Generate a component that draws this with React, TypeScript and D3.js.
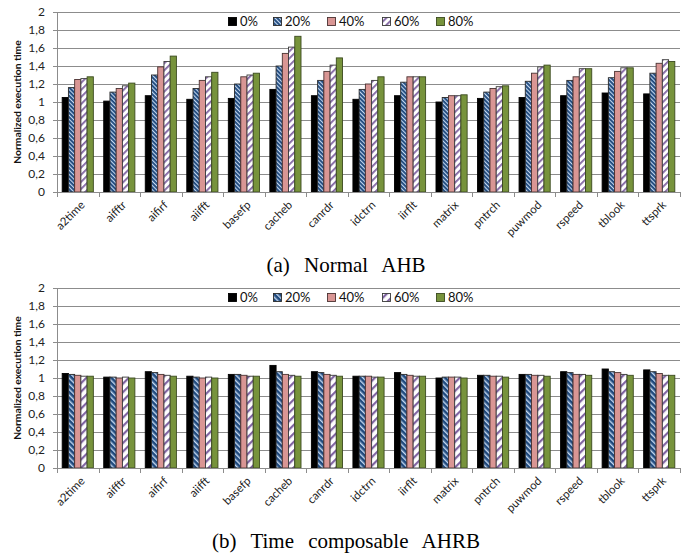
import React from 'react';
import * as d3 from 'd3';

// benchmarks on the x axis
const categories = [
  'a2time', 'aifftr', 'aifirf', 'aiifft', 'basefp', 'cacheb', 'canrdr', 'idctrn',
  'iirflt', 'matrix', 'pntrch', 'puwmod', 'rspeed', 'tblook', 'ttsprk',
];
const seriesNames = ['0%', '20%', '40%', '60%', '80%'];
const yTicks = [0, 0.2, 0.4, 0.6, 0.8, 1, 1.2, 1.4, 1.6, 1.8, 2];

// (a) Normal AHB
const normal0 = [1.05, 1.01, 1.07, 1.03, 1.04, 1.14, 1.07, 1.03, 1.07, 1.0, 1.04, 1.05, 1.07, 1.1, 1.09];
const normal20 = [1.16, 1.11, 1.3, 1.15, 1.2, 1.4, 1.24, 1.14, 1.22, 1.05, 1.11, 1.23, 1.24, 1.27, 1.32];
const normal40 = [1.25, 1.15, 1.39, 1.24, 1.28, 1.54, 1.34, 1.2, 1.28, 1.07, 1.15, 1.32, 1.28, 1.34, 1.43];
const normal60 = [1.26, 1.18, 1.45, 1.28, 1.3, 1.61, 1.41, 1.24, 1.28, 1.07, 1.17, 1.39, 1.37, 1.38, 1.47];
const normal80 = [1.28, 1.21, 1.51, 1.33, 1.32, 1.73, 1.49, 1.28, 1.28, 1.08, 1.18, 1.41, 1.37, 1.38, 1.45];

// (b) Time composable AHRB
const compos0 = [1.05, 1.01, 1.07, 1.02, 1.04, 1.14, 1.07, 1.02, 1.06, 1.0, 1.03, 1.04, 1.07, 1.1, 1.09];
const compos20 = [1.04, 1.01, 1.06, 1.01, 1.04, 1.07, 1.06, 1.02, 1.04, 1.01, 1.03, 1.04, 1.06, 1.07, 1.07];
const compos40 = [1.03, 1.0, 1.04, 1.0, 1.03, 1.04, 1.04, 1.02, 1.03, 1.01, 1.02, 1.03, 1.04, 1.06, 1.05];
const compos60 = [1.02, 1.01, 1.03, 1.01, 1.02, 1.03, 1.03, 1.01, 1.02, 1.01, 1.02, 1.03, 1.04, 1.04, 1.03];
const compos80 = [1.02, 1.0, 1.02, 1.0, 1.02, 1.02, 1.02, 1.01, 1.02, 1.0, 1.01, 1.02, 1.03, 1.03, 1.03];

const FONT = 'Lato, "Open Sans", sans-serif';
const GRID = '#8c8c8c';
const W = 695;
const H = 554;

type ChartProps = {
  id: string;
  top: number;
  series: number[][];
  caption: string;
  fine: boolean; // top chart uses the denser hatching
};

const BarChart = ({ id, top, series, caption, fine }: ChartProps) => {
  const margin = { left: 57, right: 15, top: 12 };
  const plotH = 180;

  const x = d3.scaleBand<string>()
    .domain(categories)
    .range([margin.left, W - margin.right])
    .paddingInner(0.25)
    .paddingOuter(0.125);
  const step = x.step();
  const xs = d3.scaleBand<string>()
    .domain(seriesNames)
    .range([0, x.bandwidth()]);
  const y = d3.scaleLinear().domain([0, 2]).range([margin.top + plotH, margin.top]);

  const fills = ['#000', `url(#${id}-p20)`, '#d99694', `url(#${id}-p60)`, '#77933c'];
  const strokes = ['#000', '#2a2a2a', '#4a3232', '#3a3a3a', '#3b4a1f'];
  const legendX = [228, 273, 327, 382, 436];

  // category separators on the x axis
  const boundaries = d3.range(categories.length + 1).map(i => margin.left + i * step);

  return (
    <g transform={`translate(0,${top})`}>
      <defs>
        <pattern id={`${id}-p20`} patternUnits="userSpaceOnUse" width={fine ? 3 : 4} height={fine ? 3 : 4}
          patternTransform="rotate(-45)">
          <rect width={fine ? 3 : 4} height={fine ? 3 : 4} fill="#1f497d" />
          <rect width={fine ? 1.1 : 1.4} height={fine ? 3 : 4} fill="#c6d9f1" />
        </pattern>
        <pattern id={`${id}-p60`} patternUnits="userSpaceOnUse" width={fine ? 5 : 6} height={fine ? 5 : 6}
          patternTransform="rotate(45)">
          <rect width={fine ? 5 : 6} height={fine ? 5 : 6} fill="#fff" />
          <rect width={fine ? 1.8 : 2.2} height={fine ? 5 : 6} fill="#8064a2" />
        </pattern>
      </defs>

      {/* gridlines */}
      {yTicks.map(t => (
        <line key={t} x1={margin.left - 4} x2={W - margin.right} y1={Math.round(y(t)) + 0.5} y2={Math.round(y(t)) + 0.5}
          stroke={GRID} strokeWidth={1} />
      ))}
      {yTicks.map(t => (
        <text key={`l${t}`} x={45} y={y(t)} dy="0.35em" textAnchor="end" fontFamily={FONT} fontSize={12} fill="#222">
          {d3.format('')(t).replace('.', ',')}
        </text>
      ))}
      <line x1={margin.left + 0.5} x2={margin.left + 0.5} y1={y(2)} y2={y(0)} stroke={GRID} />

      {/* bars */}
      {series.map((vals, si) =>
        vals.map((v, ci) => (
          <rect key={`${si}-${ci}`}
            x={(x(categories[ci]) as number) + (xs(seriesNames[si]) as number)}
            y={y(v)}
            width={xs.bandwidth()}
            height={y(0) - y(v)}
            fill={fills[si]}
            stroke={strokes[si]}
            strokeWidth={0.9} />
        ))
      )}

      {/* x axis */}
      <line x1={margin.left} x2={W - margin.right} y1={Math.round(y(0)) + 0.5} y2={Math.round(y(0)) + 0.5} stroke={GRID} />
      {boundaries.map((bx, i) => (
        <line key={`t${i}`} x1={Math.round(bx) + 0.5} x2={Math.round(bx) + 0.5} y1={y(0)} y2={y(0) + 5} stroke={GRID} />
      ))}
      {categories.map(c => {
        const cx = (x(c) as number) + x.bandwidth() / 2 + 2;
        const cy = y(0) + 8;
        return (
          <text key={c} transform={`translate(${cx},${cy}) rotate(-45)`} textAnchor="end" dy="0.7em"
            fontFamily={FONT} fontSize={11.5} fill="#222">{c}</text>
        );
      })}

      {/* y title */}
      <text transform={`translate(21,${y(1)}) rotate(-90)`} textAnchor="middle" fontFamily={FONT}
        fontWeight="bold" fontSize={10.3} fill="#111">Normalized execution time</text>

      {/* legend */}
      {seriesNames.map((s, i) => (
        <g key={s} transform={`translate(${legendX[i]},${margin.top + 9})`}>
          <rect x={0.5} y={-3.5} width={8} height={8} fill={fills[i]} stroke={strokes[i]} strokeWidth={0.9} />
          <text x={12} y={0} dy="0.36em" fontFamily={FONT} fontSize={13} fill="#111">{s}</text>
        </g>
      ))}

      <text x={346} y={272} textAnchor="middle" fontFamily='"Liberation Serif", "Times New Roman", serif'
        fontSize={21} wordSpacing={9} fill="#000">{caption}</text>
    </g>
  );
};

export default function App() {
  return (
    <svg width={W} height={H} style={{ position: 'absolute', left: 0, top: 0, background: '#fff' }}>
      <rect width={W} height={H} fill="#fff" />
      <BarChart id="a" top={0} fine caption="(a) Normal AHB"
        series={[normal0, normal20, normal40, normal60, normal80]} />
      <BarChart id="b" top={276} fine={false} caption="(b) Time composable AHRB"
        series={[compos0, compos20, compos40, compos60, compos80]} />
    </svg>
  );
}
